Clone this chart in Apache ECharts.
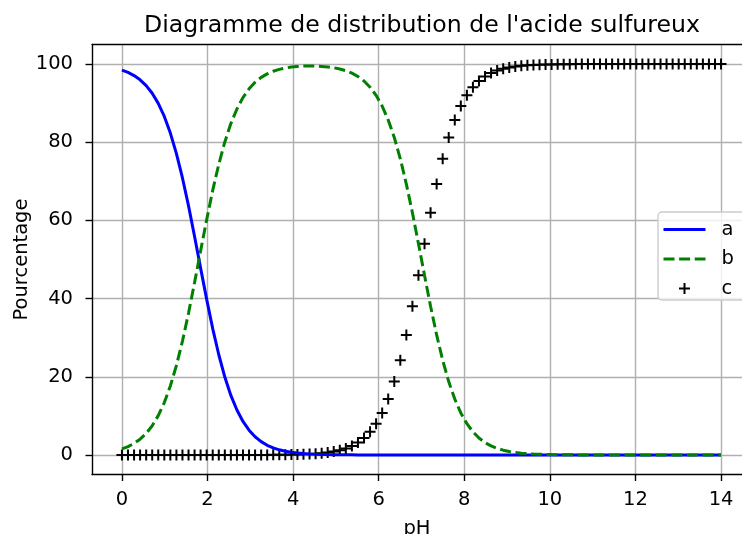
<!DOCTYPE html>
<html>
<head>
<meta charset="utf-8">
<script src="https://cdn.jsdelivr.net/npm/echarts@6/dist/echarts.min.js"></script>
<style>html,body{margin:0;padding:0;background:#fff}#c{width:742px;height:534px}</style>
</head>
<body>
<div id="c"></div>
<script>
const titleText = "Diagramme de distribution de l'acide sulfureux";
const xName = "pH";
const yName = "Pourcentage";
const seriesNames = ["a", "b", "c"];
const xTicks = [0, 2, 4, 6, 8, 10, 12, 14];
const yTicks = [0, 20, 40, 60, 80, 100];

const ph = [0,0.141,0.283,0.424,0.566,0.707,0.848,0.990,1.131,1.273,
1.414,1.556,1.697,1.838,1.980,2.121,2.263,2.404,2.545,2.687,
2.828,2.970,3.111,3.253,3.394,3.535,3.677,3.818,3.960,4.101,
4.242,4.384,4.525,4.667,4.808,4.949,5.091,5.232,5.374,5.515,
5.657,5.798,5.939,6.081,6.222,6.364,6.505,6.646,6.788,6.929,
7.071,7.212,7.354,7.495,7.636,7.778,7.919,8.061,8.202,8.343,
8.485,8.626,8.768,8.909,9.051,9.192,9.333,9.475,9.616,9.758,
9.899,10.040,10.182,10.323,10.465,10.606,10.747,10.889,11.030,11.172,
11.313,11.455,11.596,11.737,11.879,12.020,12.162,12.303,12.444,12.586,
12.727,12.869,13.010,13.152,13.293,13.434,13.576,13.717,13.859,14];

const a = [98.44,97.85,97.05,95.96,94.49,92.53,89.94,86.59,82.34,77.10,
70.86,63.71,55.90,47.79,39.80,32.31,25.63,19.93,15.23,11.49,
8.57,6.34,4.66,3.41,2.48,1.81,1.31,0.95,0.69,0.50,
0.36,0.26,0.19,0.14,0.10,0.07,0.05,0.04,0.03,0.02,
0.01,0.01,0.01,0,0,0,0,0,0,0,
0,0,0,0,0,0,0,0,0,0,
0,0,0,0,0,0,0,0,0,0,
0,0,0,0,0,0,0,0,0,0,
0,0,0,0,0,0,0,0,0,0,
0,0,0,0,0,0,0,0,0,0];

const b = [1.56,2.15,2.95,4.04,5.51,7.47,10.06,13.41,17.66,22.90,
29.14,36.29,44.10,52.21,60.20,67.69,74.37,80.07,84.77,88.51,
91.43,93.66,95.33,96.58,97.49,98.16,98.64,98.99,99.22,99.38,
99.47,99.50,99.48,99.40,99.26,99.05,98.73,98.29,97.67,96.81,
95.65,94.08,91.99,89.25,85.70,81.23,75.76,69.30,61.97,54.06,
45.94,38.03,30.70,24.24,18.77,14.30,10.75,8.00,5.91,4.34,
3.17,2.31,1.68,1.22,0.88,0.64,0.46,0.33,0.24,0.17,
0.13,0.09,0.06,0.05,0.03,0.02,0.02,0.01,0.01,0,
0,0,0,0,0,0,0,0,0,0,
0,0,0,0,0,0,0,0,0,0];

const c = [0,0,0,0,0,0,0,0,0,0,
0,0,0,0,0,0,0,0,0,0,
0,0,0.01,0.02,0.02,0.03,0.05,0.07,0.09,0.13,
0.17,0.24,0.33,0.46,0.64,0.88,1.22,1.68,2.31,3.17,
4.34,5.91,8.00,10.75,14.30,18.77,24.24,30.70,38.03,45.94,
54.06,61.97,69.30,75.76,81.23,85.70,89.25,92.00,94.09,95.66,
96.83,97.69,98.32,98.78,99.12,99.36,99.54,99.67,99.76,99.83,
99.87,99.91,99.94,99.95,99.97,99.98,99.98,99.99,99.99,100,
100,100,100,100,100,100,100,100,100,100,
100,100,100,100,100,100,100,100,100,100];

const FONT = "DejaVu Sans";
const plus = 'path://M4.5,0H6.5V4.5H11V6.5H6.5V11H4.5V6.5H0V4.5H4.5Z';
const pair = arr => ph.map((x, i) => [x, arr[i]]);
const SPINE = {show: true, onZero: false, lineStyle: {color: '#000', width: 1.4}};
const LW = 3;
const DASH = [11, 4.6];

const chart = echarts.init(document.getElementById('c'), null, {renderer: 'canvas'});
chart.setOption({
  backgroundColor: '#ffffff',
  animation: false,
  title: {
    text: titleText, left: 144, top: 14, padding: 0,
    textStyle: {fontFamily: FONT, fontSize: 23.6, fontWeight: 'normal', color: '#000'}
  },
  grid: {
    left: 92, top: 44.5, right: 0, height: 430,
    show: false, containLabel: false, outerBoundsMode: 'none'
  },
  legend: {
    orient: 'vertical', left: 658, top: 212,
    padding: [7.5, 30, 1.5, 4],
    itemWidth: 42, itemHeight: 11, itemGap: 9.5,
    backgroundColor: 'rgba(255,255,255,0.8)',
    borderColor: '#cccccc', borderWidth: 1.4, borderRadius: 4,
    textStyle: {fontFamily: FONT, fontSize: 19.5, color: '#000', lineHeight: 20, padding: [0, 0, 0, 11]},
    data: [
      {name: seriesNames[0], itemStyle: {color: 'rgba(0,0,0,0)', borderWidth: 0},
       lineStyle: {color: '#0000ff', width: LW, type: 'solid'}},
      {name: seriesNames[1], itemStyle: {color: 'rgba(0,0,0,0)', borderWidth: 0},
       lineStyle: {color: '#008000', width: LW, type: DASH}},
      {name: seriesNames[2]}
    ]
  },
  xAxis: [{
    type: 'value', min: -0.7, max: 14.49, splitNumber: 7, position: 'bottom',
    name: xName, nameLocation: 'middle', nameGap: 44, nameMoveOverlap: false,
    nameTextStyle: {fontFamily: FONT, fontSize: 19.5, color: '#000'},
    axisLine: SPINE,
    axisTick: {show: true, inside: false, length: 6.5, lineStyle: {color: '#000', width: 1.4}, customValues: xTicks},
    axisLabel: {fontFamily: FONT, fontSize: 19.5, color: '#000', margin: 15, customValues: xTicks},
    splitLine: {show: true, lineStyle: {color: '#b0b0b0', width: 1.4}}
  }, {
    type: 'value', min: -0.7, max: 14.49, position: 'top',
    axisLine: SPINE, axisTick: {show: false}, axisLabel: {show: false}, splitLine: {show: false}
  }],
  yAxis: {
    type: 'value', min: -5, max: 105, splitNumber: 5, position: 'left',
    name: yName, nameLocation: 'middle', nameGap: 60, nameMoveOverlap: false,
    nameTextStyle: {fontFamily: FONT, fontSize: 19.5, color: '#000'},
    axisLine: SPINE,
    axisTick: {show: true, inside: false, length: 6.5, lineStyle: {color: '#000', width: 1.4}, customValues: yTicks},
    axisLabel: {fontFamily: FONT, fontSize: 19.5, color: '#000', margin: 19, customValues: yTicks},
    splitLine: {show: true, lineStyle: {color: '#b0b0b0', width: 1.4}}
  },
  series: [
    {name: seriesNames[0], type: 'line', data: pair(a), symbol: 'none', showSymbol: false,
     lineStyle: {color: '#0000ff', width: LW}, itemStyle: {color: '#0000ff'}, clip: true},
    {name: seriesNames[1], type: 'line', data: pair(b), symbol: 'none', showSymbol: false,
     lineStyle: {color: '#008000', width: LW, type: DASH}, itemStyle: {color: '#008000'}, clip: true},
    {name: seriesNames[2], type: 'scatter', data: pair(c), symbol: plus, symbolSize: 11, symbolKeepAspect: true,
     itemStyle: {color: '#000', opacity: 1}, clip: true}
  ]
});
</script>
</body>
</html>
